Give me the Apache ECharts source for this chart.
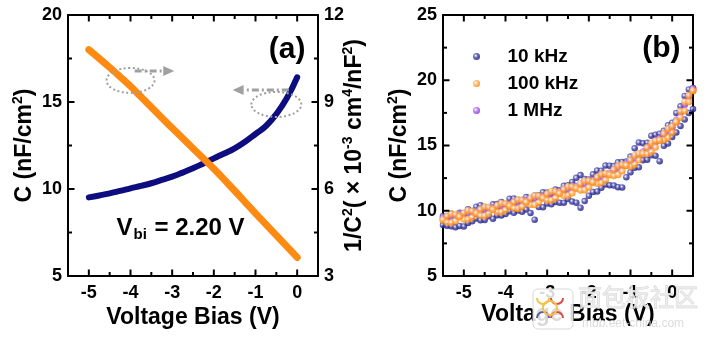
<!DOCTYPE html>
<html>
<head>
<meta charset="utf-8">
<script src="https://cdn.jsdelivr.net/npm/echarts@6/dist/echarts.min.js"></script>
<style>
  html, body { margin: 0; padding: 0; background: #fff; }
  #chart { width: 711px; height: 341px; }
</style>
</head>
<body>
<div id="chart"></div>
<script>
// ---- Panel (a): C–V sweep and 1/C^2 (Mott–Schottky) ----
const voltsA = [-5, -4.75, -4.5, -4.25, -4, -3.75, -3.5, -3.25, -3, -2.75, -2.5,
                -2.25, -2, -1.75, -1.5, -1.25, -1, -0.75, -0.5, -0.25, 0];
const capA = [9.52, 9.63, 9.75, 9.89, 10.04, 10.18, 10.33, 10.52, 10.71, 10.94, 11.19,
              11.47, 11.76, 12.04, 12.34, 12.72, 13.16, 13.62, 14.31, 15.21, 16.42];
const invCapSqA = [10.80, 10.50, 10.19, 9.87, 9.54, 9.18, 8.82, 8.46, 8.10, 7.75, 7.40,
                   7.05, 6.70, 6.32, 5.94, 5.55, 5.16, 4.78, 4.40, 4.02, 3.64];

// ---- Panel (b): C–V at three frequencies (two sweeps each) ----
const voltsB = [-5.5, -5.4, -5.3, -5.2, -5.1, -5.0, -4.9, -4.8, -4.7, -4.6, -4.5,
                -4.4, -4.3, -4.2, -4.1, -4.0, -3.9, -3.8, -3.7, -3.6, -3.5,
                -3.4, -3.3, -3.2, -3.1, -3.0, -2.9, -2.8, -2.7, -2.6, -2.5,
                -2.4, -2.3, -2.2, -2.1, -2.0, -1.9, -1.8, -1.7, -1.6, -1.5,
                -1.4, -1.3, -1.2, -1.1, -1.0, -0.9, -0.8, -0.7, -0.6, -0.5,
                -0.4, -0.3, -0.2, -0.1, 0.0, 0.1, 0.2, 0.3, 0.4, 0.5];
const c10kSweep1 = [9.60, 9.56, 9.77, 9.58, 9.84, 9.80, 10.12, 9.99, 10.31, 10.43, 10.25,
                    10.22, 10.49, 10.51, 10.68, 10.50, 10.92, 10.94, 10.81, 10.83, 11.05,
                    10.88, 11.16, 11.19, 11.42, 11.40, 11.34, 11.63, 11.57, 11.91, 11.95,
                    12.21, 12.52, 12.73, 12.44, 12.40, 12.79, 13.08, 13.07, 13.46, 13.45,
                    13.43, 13.71, 13.74, 13.77, 14.15, 14.79, 15.23, 15.17, 15.21, 15.75,
                    15.82, 15.90, 16.13, 16.56, 16.75, 17.50, 18.00, 18.80, 19.30, 19.40];
const c10kSweep2 = [8.90, 8.86, 8.82, 8.73, 8.84, 8.80, 9.07, 9.19, 9.41, 9.28, 9.30,
                    9.57, 9.39, 9.66, 9.63, 9.75, 9.97, 9.84, 10.01, 9.93, 10.10,
                    9.83, 9.31, 10.29, 10.27, 10.55, 10.49, 10.68, 10.62, 10.61, 10.90,
                    10.71, 10.62, 10.23, 10.74, 11.15, 11.44, 11.48, 11.77, 12.01, 11.95,
                    11.93, 11.81, 11.79, 12.57, 12.95, 13.29, 13.33, 13.87, 13.91, 14.25,
                    14.22, 13.80, 14.98, 15.16, 15.65, 16.00, 16.50, 17.00, 17.50, 17.80];
const c100kSweep1 = [9.30, 9.61, 9.77, 9.73, 9.54, 9.35, 9.32, 9.49, 9.81, 10.13, 10.30,
                     10.27, 10.09, 9.91, 9.88, 10.05, 10.37, 10.69, 10.86, 10.83, 10.65,
                     10.48, 10.46, 10.64, 10.97, 11.30, 11.49, 11.48, 11.32, 11.16, 11.15,
                     11.36, 11.72, 12.08, 12.29, 12.30, 12.19, 12.08, 12.12, 12.36, 12.75,
                     13.18, 13.46, 13.54, 13.47, 13.40, 13.54, 13.88, 14.37, 14.86, 15.20,
                     15.37, 15.40, 15.43, 15.61, 16.00, 16.80, 17.65, 18.35, 18.85, 19.20];
const c100kSweep2 = [9.30, 9.11, 9.07, 9.23, 9.54, 9.85, 10.02, 9.99, 9.81, 9.63, 9.60,
                     9.77, 10.09, 10.41, 10.58, 10.55, 10.37, 10.19, 10.16, 10.33, 10.65,
                     10.98, 11.16, 11.14, 10.97, 10.80, 10.79, 10.98, 11.32, 11.66, 11.85,
                     11.86, 11.72, 11.58, 11.59, 11.80, 12.19, 12.58, 12.82, 12.86, 12.75,
                     12.68, 12.76, 13.04, 13.47, 13.90, 14.24, 14.38, 14.37, 14.36, 14.50,
                     14.87, 15.40, 15.93, 16.31, 16.50, 16.80, 17.15, 17.65, 18.35, 19.20];
const c1M = [9.45, 9.51, 9.57, 9.63, 9.69, 9.75, 9.82, 9.89, 9.96, 10.03, 10.10,
             10.17, 10.24, 10.31, 10.38, 10.45, 10.52, 10.59, 10.66, 10.73, 10.80,
             10.88, 10.96, 11.04, 11.12, 11.20, 11.29, 11.38, 11.47, 11.56, 11.65,
             11.76, 11.87, 11.98, 12.09, 12.20, 12.34, 12.48, 12.62, 12.76, 12.90,
             13.08, 13.26, 13.44, 13.62, 13.80, 14.04, 14.28, 14.52, 14.76, 15.00,
             15.27, 15.55, 15.83, 16.11, 16.40, 16.95, 17.55, 18.15, 18.75, 19.35];

// ---- tick values ----
const xTickSlots = ['-5.5', '-5', '-4.5', '-4', '-3.5', '-3', '-2.5', '-2', '-1.5', '-1', '-0.5', '0', '0.5'];
const xMajorTicks = [-5, -4, -3, -2, -1, 0];
const xMinorTicks = [-4.5, -3.5, -2.5, -1.5, -0.5];
const capTicksA = [5, 10, 15, 20];
const capMinorA = [7.5, 12.5, 17.5];
const invTicksA = [3, 6, 9, 12];
const invMinorA = [4.5, 7.5, 10.5];
const capTicksB = [5, 10, 15, 20, 25];
const capMinorB = [7.5, 12.5, 17.5, 22.5];

const FONT = '"Liberation Sans", Arial, Helvetica, sans-serif';
const INK = '#000';

const pairs = (xs, ys) => xs.map((x, i) => [x, ys[i]]);
const isWhole = (idx, val) => Number(val) % 1 === 0;

function ball(base, mid) {
  return {
    type: 'radial', x: 0.38, y: 0.38, r: 0.62,
    colorStops: [
      { offset: 0, color: '#ffffff' },
      { offset: 0.45, color: mid },
      { offset: 1, color: base }
    ]
  };
}

const axisLineStyle = { show: true, onZero: false, lineStyle: { color: INK, width: 2 } };
const tickLabelStyle = { color: INK, fontSize: 18, fontWeight: 'bold', fontFamily: FONT };
const titleStyle = {
  color: INK, fontSize: 23, fontWeight: 'bold', fontFamily: FONT,
  rich: {
    sup: { fontSize: 14, fontWeight: 'bold', fontFamily: FONT, color: INK, verticalAlign: 'top', lineHeight: 27 }
  }
};

function xAxesFor(grid, title, gap) {
  const value = { type: 'value', gridIndex: grid, min: -5.5, max: 0.5, splitLine: { show: false },
                  axisTick: { show: false }, axisLabel: { show: false } };
  return [
    Object.assign({}, value, {
      position: 'bottom', axisLine: axisLineStyle,
      name: title, nameLocation: 'middle', nameGap: gap, nameMoveOverlap: false, nameTextStyle: titleStyle
    }),
    Object.assign({}, value, { position: 'top', axisLine: axisLineStyle }),
    {
      type: 'category', gridIndex: grid, data: xTickSlots, boundaryGap: false, position: 'bottom',
      axisLine: { show: false }, splitLine: { show: false }, axisTick: { show: false },
      axisLabel: Object.assign({ show: true, margin: 8, interval: isWhole }, tickLabelStyle)
    }
  ];
}

function yAxis(grid, pos, min, max, step, labels, name, gap) {
  return {
    type: 'value', gridIndex: grid, position: pos, min: min, max: max, interval: step,
    splitLine: { show: false },
    axisLine: axisLineStyle,
    axisTick: { show: false },
    axisLabel: Object.assign({ show: labels, margin: 6 }, tickLabelStyle),
    name: name, nameLocation: 'middle', nameGap: gap, nameRotate: 90, nameMoveOverlap: false,
    nameTextStyle: titleStyle
  };
}

const option = {
  animation: false,
  backgroundColor: '#fff',
  grid: [
    { left: 68, top: 15, width: 250, height: 261, outerBoundsMode: 'none' },
    { left: 443, top: 15, width: 250, height: 261, outerBoundsMode: 'none' }
  ],
  xAxis: xAxesFor(0, 'Voltage Bias (V)', 30).concat(xAxesFor(1, 'Voltage Bias (V)', 27)),
  yAxis: [
    yAxis(0, 'left', 5, 20, 5, true, 'C (nF/cm{sup|2})', 30),
    yAxis(0, 'right', 3, 12, 3, true, '1/C{sup|2}( × 10{sup|-3} cm{sup|4}/nF{sup|2})', 23),
    yAxis(1, 'left', 5, 25, 5, true, 'C (nF/cm{sup|2})', 30),
    yAxis(1, 'right', 5, 25, 5, false, '', 0)
  ],
  legend: {
    data: ['10 kHz', '100 kHz', '1 MHz'],
    orient: 'vertical', left: 468, top: 42,
    itemWidth: 52, itemHeight: 7, itemGap: 8, icon: 'circle',
    textStyle: { color: INK, fontSize: 19, fontWeight: 'bold', fontFamily: FONT }
  },
  series: [
    {
      name: 'C', type: 'line', xAxisIndex: 0, yAxisIndex: 0,
      data: pairs(voltsA, capA), smooth: true, showSymbol: false,
      lineStyle: { color: '#0d0d80', width: 6, cap: 'round', join: 'round' }
    },
    {
      name: '1/C2', type: 'line', xAxisIndex: 0, yAxisIndex: 1,
      data: pairs(voltsA, invCapSqA), smooth: true, showSymbol: false,
      lineStyle: { color: '#ff8a12', width: 7, cap: 'round', join: 'round' }
    },
    {
      name: '10 kHz', type: 'scatter', xAxisIndex: 3, yAxisIndex: 2,
      data: pairs(voltsB, c10kSweep1).concat(pairs(voltsB, c10kSweep2)),
      symbol: 'circle', symbolSize: 6.5,
      itemStyle: { color: ball('#15157e', '#4a4ab0') }
    },
    {
      name: '1 MHz', type: 'scatter', xAxisIndex: 3, yAxisIndex: 2,
      data: pairs(voltsB, c1M),
      symbol: 'circle', symbolSize: 7,
      itemStyle: { color: ball('#8a2be2', '#b070f0') }
    },
    {
      name: '100 kHz', type: 'scatter', xAxisIndex: 3, yAxisIndex: 2,
      data: pairs(voltsB, c100kSweep1).concat(pairs(voltsB, c100kSweep2)),
      symbol: 'circle', symbolSize: 7,
      itemStyle: { color: ball('#ff8200', '#ffb565') }
    }
  ]
};

const chart = echarts.init(document.getElementById('chart'), null, { renderer: 'canvas' });
chart.setOption(option);

// ---- inward tick marks on all four sides, placed through the axis scales ----
const at = (xIdx, yIdx, x, y) => chart.convertToPixel({ xAxisIndex: xIdx, yAxisIndex: yIdx }, [x, y]);
function seg(x1, y1, x2, y2) {
  return { type: 'line', silent: true, z: 40,
           shape: { x1: x1, y1: y1, x2: x2, y2: y2 }, style: { stroke: INK, lineWidth: 2 } };
}
function frameTicks(xIdx, yLeft, yRight, yMin, yMax, leftMajor, leftMinor, rightMajor, rightMinor) {
  const out = [];
  const MAJ = 6.5, MIN = 4;
  const xTick = (v, len) => {
    const b = at(xIdx, yLeft, v, yMin), t = at(xIdx, yLeft, v, yMax);
    out.push(seg(b[0], b[1], b[0], b[1] - len), seg(t[0], t[1], t[0], t[1] + len));
  };
  const leftTick = (v, len) => { const p = at(xIdx, yLeft, -5.5, v); out.push(seg(p[0], p[1], p[0] + len, p[1])); };
  const rightTick = (v, len) => { const p = at(xIdx, yRight, 0.5, v); out.push(seg(p[0], p[1], p[0] - len, p[1])); };
  xMajorTicks.forEach(v => xTick(v, MAJ));
  xMinorTicks.forEach(v => xTick(v, MIN));
  leftMajor.forEach(v => leftTick(v, MAJ));
  leftMinor.forEach(v => leftTick(v, MIN));
  rightMajor.forEach(v => rightTick(v, MAJ));
  rightMinor.forEach(v => rightTick(v, MIN));
  return out;
}

// ---- annotations placed in data coordinates ----
const pA = (x, y) => at(0, 0, x, y);
const pB = (x, y) => at(3, 2, x, y);
const GREY = '#a0a0a0';

function arrow(from, to) {
  const dir = Math.sign(to[0] - from[0]);
  const back = [to[0] - dir * 11, to[1]];
  return [
    { type: 'line', shape: { x1: from[0], y1: from[1], x2: back[0], y2: back[1] },
      style: { stroke: GREY, lineWidth: 3, lineDash: [7, 3, 2, 3] }, z: 10 },
    { type: 'polygon', shape: { points: [to, [back[0], back[1] - 5], [back[0], back[1] + 5]] },
      style: { fill: GREY }, z: 10 }
  ];
}
function loop(c, rx, ry) {
  return { type: 'ellipse', shape: { cx: c[0], cy: c[1], rx: rx, ry: ry },
           style: { fill: null, stroke: GREY, lineWidth: 2, lineDash: [2, 2.5] }, z: 10 };
}

const tagA = pA(0.2, 18.0);
const tagB = pB(0.2, 22.4);
const vbi = pA(-2.8, 7.75);

const graphics = [
  ...frameTicks(0, 0, 1, 5, 20, capTicksA, capMinorA, invTicksA, invMinorA),
  ...frameTicks(3, 2, 3, 5, 25, capTicksB, capMinorB, capTicksB, capMinorB),
  loop(pA(-4.0, 16.24), 24, 12.5),
  ...arrow(pA(-3.9, 16.78), pA(-2.95, 16.78)),
  loop(pA(-0.5, 14.86), 25, 12.5),
  ...arrow(pA(-0.2, 15.69), pA(-1.55, 15.69)),
  { type: 'text', x: tagA[0], y: tagA[1], z: 20,
    style: { text: '(a)', fill: INK, font: 'bold 30px ' + FONT, align: 'right', verticalAlign: 'middle' } },
  { type: 'text', x: tagB[0], y: tagB[1], z: 20,
    style: { text: '(b)', fill: INK, font: 'bold 30px ' + FONT, align: 'right', verticalAlign: 'middle' } },
  { type: 'text', x: vbi[0], y: vbi[1], z: 20,
    style: {
      text: '{v|V}{s|bi}{v| = 2.20 V}', align: 'center', verticalAlign: 'middle',
      rich: {
        v: { fill: INK, fontSize: 24, fontWeight: 'bold', fontFamily: FONT, lineHeight: 28 },
        s: { fill: INK, fontSize: 15, fontWeight: 'bold', fontFamily: FONT, verticalAlign: 'bottom', lineHeight: 18, padding: [13, 1, 0, 1] }
      }
    } },
  // site watermark
  { type: 'rect', shape: { x: 533, y: 289, width: 40, height: 40, r: 5 }, z: 30,
    style: { fill: 'rgba(255,255,255,0.85)', stroke: '#d8d8d8', lineWidth: 1 } },
  { type: 'arc', shape: { cx: 543, cy: 298, r: 6, startAngle: 0, endAngle: Math.PI }, z: 31, style: { stroke: '#f3c24a', lineWidth: 2, fill: null } },
  { type: 'arc', shape: { cx: 557, cy: 298, r: 6, startAngle: 0, endAngle: Math.PI }, z: 31, style: { stroke: '#e04848', lineWidth: 2, fill: null } },
  { type: 'arc', shape: { cx: 543, cy: 318, r: 6, startAngle: Math.PI, endAngle: 2 * Math.PI }, z: 31, style: { stroke: '#5a5aa8', lineWidth: 2, fill: null } },
  { type: 'arc', shape: { cx: 557, cy: 318, r: 6, startAngle: Math.PI, endAngle: 2 * Math.PI }, z: 31, style: { stroke: '#e04848', lineWidth: 2, fill: null } },
  { type: 'arc', shape: { cx: 550, cy: 308, r: 7, startAngle: 0, endAngle: 2 * Math.PI }, z: 31, style: { stroke: '#f3c24a', lineWidth: 2, fill: null } },
  { type: 'text', x: 578, y: 297, z: 30,
    style: { text: '面包板社区', fill: 'rgba(235,235,235,0.9)', stroke: 'rgba(205,205,205,0.9)', lineWidth: 0.8,
             font: '24px "Noto Sans CJK SC", sans-serif', verticalAlign: 'middle' } },
  { type: 'text', x: 582, y: 324, z: 30,
    style: { text: 'mbb.eet-china.com', fill: 'rgba(215,215,215,0.9)', font: '12px ' + FONT, verticalAlign: 'middle' } }
];
chart.setOption({ graphic: graphics });
</script>
</body>
</html>
